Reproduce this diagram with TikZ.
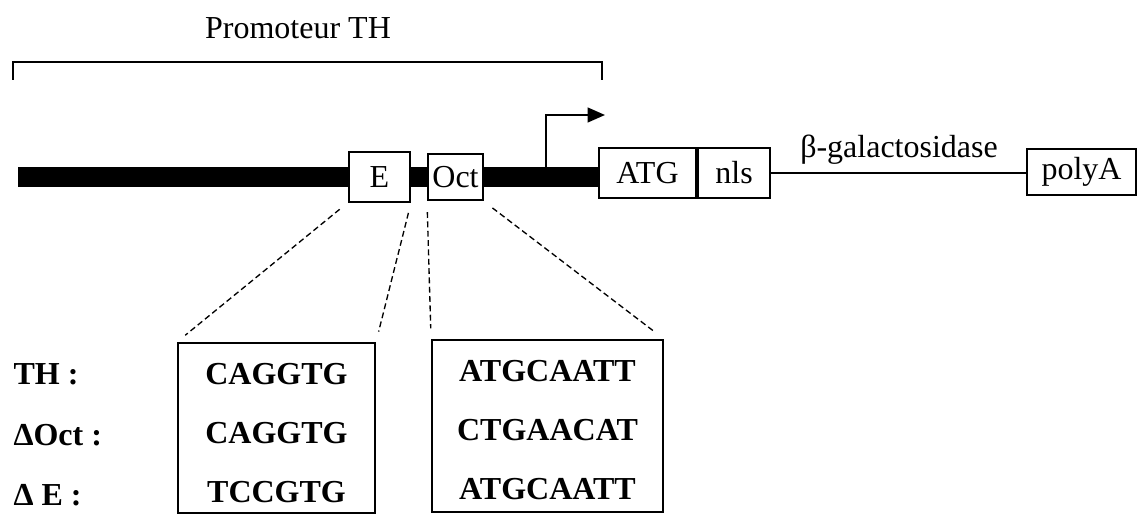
\documentclass[tikz,border=0pt]{standalone}
\usepackage{fontspec}
\setmainfont{Liberation Serif}
\usetikzlibrary{arrows.meta,positioning}

\tikzset{
  elem/.style={draw, line width=0.75pt, fill=white, inner sep=0pt, minimum height=18.4pt},
  seqbox/.style={draw, line width=0.75pt, inner sep=0pt, align=center, font=\bfseries\fontsize{12}{22}\selectfont},
  zoomline/.style={dash pattern=on 2.2pt off 1.3pt, line width=0.5pt, shorten <=4pt, shorten >=4pt},
  dna/.style={line width=7.5pt},
  rowlabel/.style={anchor=west, inner sep=0pt, font=\bfseries\fontsize{12}{14}\selectfont}
}

\begin{document}
\begin{tikzpicture}[x=0.375pt, y=-0.375pt, font=\fontsize{12}{14}\selectfont]
  \useasboundingbox (0,0) rectangle (1146,515);

  % Promoter bracket
  \coordinate (brL) at (13,80);
  \coordinate (brR) at (602,80);
  \draw[line width=0.6pt] (brL) -- ++(0,-18) -| (brR);
  \node (prom) at (298,28) {Promoteur TH};

  % Elements of the construct
  \node[elem, minimum width=22.9pt] (e) at (379.5,177) {E};
  \node[elem, minimum width=20.6pt, minimum height=17.6pt] (oct) at (455.5,177) {Oct};
  \node[elem, minimum width=36.4pt, minimum height=18.75pt] (atg) at (647.5,173) {ATG};
  \node[elem, minimum width=27pt, minimum height=18.75pt, right=0pt of atg] (nls) {nls};
  \node[elem, minimum width=40.9pt, minimum height=17.6pt] (polya) at (1081.5,172) {polyA};

  % DNA
  \coordinate (start) at (18,177);
  \draw[dna] (start) -- (e.west);
  \draw[dna] (e.east) -- (oct.west);
  \draw[dna] (oct.east) -- (oct.east -| atg.west);

  % Transcription start
  \coordinate (tss) at (546,170);
  \coordinate (tssend) at (605,115);
  \draw[line width=0.8pt, -{Triangle[length=6.5pt,width=5.5pt]}] (tss) |- (tssend);

  % Reporter
  \draw[line width=0.6pt] (nls.east) -- (nls.east -| polya.west);
  \node[anchor=base] (bgal) at (899,158) {β-galactosidase};

  % Sequence boxes
  \node[seqbox, minimum width=73.9pt, minimum height=63.75pt] (seqE) at (276.5,428) {\rule{0pt}{11.8pt}CAGGTG\\CAGGTG\\TCCGTG};
  \node[seqbox, minimum width=86.6pt, minimum height=64.5pt] (seqOct) at (547.5,426) {\rule{0pt}{11pt}ATGCAATT\\CTGAACAT\\ATGCAATT};

  \draw[zoomline] (e.south west) -- (seqE.north west);
  \draw[zoomline] (e.south east) -- (seqE.north east);
  \draw[zoomline] (oct.south west) -- (seqOct.north west);
  \draw[zoomline] (oct.south east) -- (seqOct.north east);

  % Row labels
  \node[rowlabel] (lTH) at (13,374) {TH :};
  \node[rowlabel] (lOct) at (13,435) {ΔOct :};
  \node[rowlabel] (lE) at (13,495) {Δ E :};
\end{tikzpicture}
\end{document}
